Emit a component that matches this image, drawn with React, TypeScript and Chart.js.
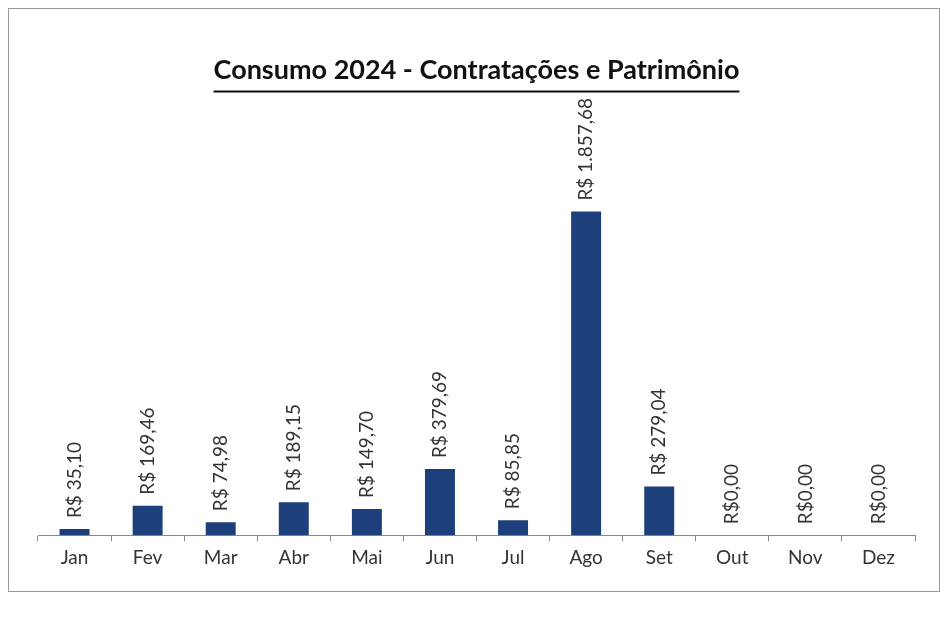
import React, { useEffect, useRef } from "react";
import { Chart, registerables } from "chart.js";

Chart.register(...registerables);

const TITLE = "Consumo 2024 - Contratações e Patrimônio";
const months = ["Jan", "Fev", "Mar", "Abr", "Mai", "Jun", "Jul", "Ago", "Set", "Out", "Nov", "Dez"];
const values = [35.10, 169.46, 74.98, 189.15, 149.70, 379.69, 85.85, 1857.68, 279.04, 0, 0, 0];
const labelTexts = ["R$ 35,10", "R$ 169,46", "R$ 74,98", "R$ 189,15", "R$ 149,70", "R$ 379,69", "R$ 85,85", "R$ 1.857,68", "R$ 279,04", "R$0,00", "R$0,00", "R$0,00"];

const FONT = "Lato, 'Open Sans', sans-serif";

const valueLabels = {
  id: "valueLabels",
  afterDatasetsDraw(chart: any) {
    const ctx = chart.ctx;
    const meta = chart.getDatasetMeta(0);
    ctx.save();
    ctx.font = `19px ${FONT}`;
    ctx.fillStyle = "#333";
    ctx.textAlign = "left";
    ctx.textBaseline = "middle";
    meta.data.forEach((bar: any, i: number) => {
      ctx.save();
      ctx.translate(bar.x, bar.y - 11);
      ctx.rotate(-Math.PI / 2);
      ctx.fillText(labelTexts[i], 0, 0);
      ctx.restore();
    });
    ctx.restore();
  },
};

const titleUnderline = {
  id: "titleUnderline",
  afterDraw(chart: any) {
    const tb = chart.titleBlock;
    if (!tb) return;
    const ctx = chart.ctx;
    ctx.save();
    ctx.font = `bold 27px ${FONT}`;
    const w = ctx.measureText(TITLE).width;
    const cx = (chart.chartArea.left + chart.chartArea.right) / 2;
    const y = tb.top + tb.height - 17;
    ctx.strokeStyle = "#111";
    ctx.lineWidth = 2;
    ctx.beginPath();
    ctx.moveTo(cx - w / 2, y);
    ctx.lineTo(cx + w / 2, y);
    ctx.stroke();
    ctx.restore();
  },
};

export default function App() {
  const ref = useRef<HTMLCanvasElement>(null);
  useEffect(() => {
    if (!ref.current) return;
    const chart = new Chart(ref.current, {
      type: "bar",
      data: {
        labels: months,
        datasets: [
          {
            data: values,
            backgroundColor: "#1d3f7c",
            barPercentage: 0.82,
            categoryPercentage: 0.5,
          },
        ],
      },
      options: {
        animation: false,
        responsive: false,
        layout: { padding: { left: 29, right: 24, top: 0, bottom: 17 } },
        plugins: {
          legend: { display: false },
          tooltip: { enabled: false },
          title: {
            display: true,
            text: TITLE,
            color: "#111",
            font: { family: FONT, size: 27, weight: "bold" },
            padding: { top: 45, bottom: 22 },
          },
        },
        scales: {
          x: {
            offset: true,
            grid: {
              offset: true,
              drawOnChartArea: false,
              drawTicks: true,
              tickLength: 6,
              color: "#888",
            },
            border: { display: true, color: "#888", width: 1 },
            ticks: {
              color: "#333",
              font: { family: FONT, size: 19 },
              padding: 5,
            },
          },
          y: {
            display: false,
            min: 0,
            max: 2450,
          },
        },
      },
      plugins: [valueLabels, titleUnderline],
    });
    return () => chart.destroy();
  }, []);
  return (
    <div style={{ width: 930, height: 582, border: "1px solid #999", background: "#fff" }}>
      <canvas ref={ref} width={930} height={582} style={{ display: "block" }} />
    </div>
  );
}
